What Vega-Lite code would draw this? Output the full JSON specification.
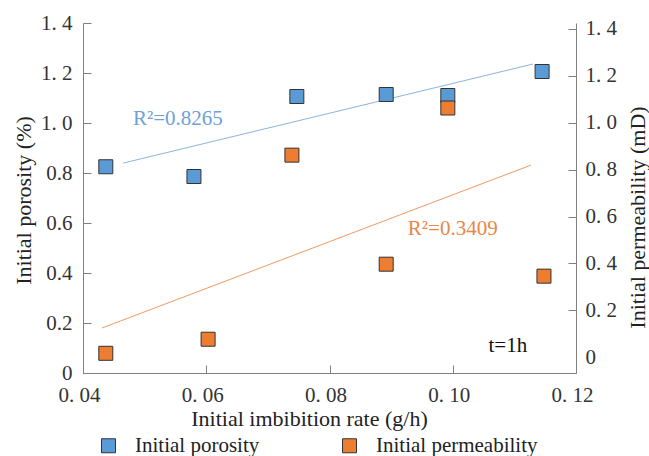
{
  "$schema": "https://vega.github.io/schema/vega-lite/v6.json",
  "width": 493,
  "height": 350,
  "autosize": "none",
  "padding": {"left": 83, "top": 23, "right": 73, "bottom": 83},
  "background": "white",
  "config": {
    "view": {"stroke": null},
    "font": "Liberation Serif",
    "axis": {
      "grid": false,
      "domainColor": "#808080",
      "domainWidth": 1,
      "tickColor": "#808080",
      "tickSize": -8,
      "labelFont": "Liberation Serif",
      "labelFontSize": 21,
      "labelColor": "#333333",
      "labelFlush": false,
      "titleFont": "Liberation Serif",
      "titleFontSize": 22,
      "titleFontWeight": "normal",
      "titleColor": "#222222"
    },
    "legend": {
      "orient": "none",
      "legendX": 15,
      "legendY": 412,
      "direction": "horizontal",
      "columns": 2,
      "padding": 0,
      "symbolType": "square",
      "symbolSize": 196,
      "symbolStrokeColor": "#333333",
      "symbolStrokeWidth": 1,
      "labelFont": "Liberation Serif",
      "labelFontSize": 21,
      "labelColor": "#222222",
      "labelOffset": 16,
      "labelLimit": 0,
      "columnPadding": 79
    }
  },
  "datasets": {
    "porosity": [
      {"rate": 0.0437, "value": 0.825},
      {"rate": 0.0580, "value": 0.786},
      {"rate": 0.0747, "value": 1.106},
      {"rate": 0.0892, "value": 1.114},
      {"rate": 0.0992, "value": 1.110},
      {"rate": 0.1145, "value": 1.206}
    ],
    "permeability": [
      {"rate": 0.0437, "value": 0.017},
      {"rate": 0.0603, "value": 0.077},
      {"rate": 0.0739, "value": 0.862},
      {"rate": 0.0892, "value": 0.397},
      {"rate": 0.0992, "value": 1.063},
      {"rate": 0.1148, "value": 0.346}
    ],
    "porosity_fit": [
      {"rate": 0.0465, "value": 0.8395},
      {"rate": 0.1130, "value": 1.2358}
    ],
    "permeability_fit": [
      {"rate": 0.0431, "value": 0.125},
      {"rate": 0.1127, "value": 0.8195}
    ],
    "notes": [
      {"series": "porosity", "rate": 0.0481, "value": 1.0148, "label": "R²=0.8265"},
      {"series": "time", "rate": 0.1058, "value": 0.1069, "label": "t=1h"},
      {"series": "permeability", "rate": 0.0927, "value": 0.546, "label": "R²=0.3409"}
    ]
  },
  "layer": [
    {
      "layer": [
        {
          "data": {"name": "porosity_fit"},
          "mark": {"type": "line", "color": "#8DB4DD", "strokeWidth": 1},
          "encoding": {
            "x": {"field": "rate", "type": "quantitative", "scale": {"domain": [0.04, 0.12], "nice": false, "zero": false}},
            "y": {"field": "value", "type": "quantitative", "scale": {"domain": [0, 1.4], "nice": false, "zero": false}}
          }
        },
        {
          "data": {"name": "porosity"},
          "mark": {"type": "point", "shape": "square", "filled": true, "size": 196, "stroke": "#333333", "strokeWidth": 1, "opacity": 1},
          "encoding": {
            "x": {
              "field": "rate",
              "type": "quantitative",
              "scale": {"domain": [0.04, 0.12], "nice": false, "zero": false},
              "axis": {
                "title": "Initial imbibition rate (g/h)",
                "values": [0.04, 0.06, 0.08, 0.1, 0.12],
                "labelExpr": "replace(format(datum.value, '.2f'), '.', '. ')",
                "labelOffset": -4,
                "labelPadding": 19,
                "titleX": 226,
                "titleY": 45,
                "titleAlign": "center",
                "titleBaseline": "middle"
              }
            },
            "y": {
              "field": "value",
              "type": "quantitative",
              "scale": {"domain": [0, 1.4], "nice": false, "zero": false},
              "axis": {
                "title": "Initial porosity (%)",
                "orient": "left",
                "values": [0, 0.2, 0.4, 0.6, 0.8, 1.0, 1.2, 1.4],
                "labelExpr": "datum.value == 0 ? '0' : datum.value >= 0.99 ? replace(format(datum.value, '.1f'), '.', '. ') : format(datum.value, '.1f')",
                "labelPadding": 19,
                "titleAngle": -90,
                "titleX": -60,
                "titleY": 177,
                "titleAlign": "center",
                "titleBaseline": "middle"
              }
            },
            "color": {
              "datum": "Initial porosity",
              "type": "nominal",
              "scale": {"domain": ["Initial porosity", "Initial permeability"], "range": ["#5B9BD5", "#ED7D31"]},
              "legend": {"title": null}
            }
          }
        },
        {
          "data": {"name": "notes"},
          "transform": [{"filter": "datum.series !== 'permeability'"}],
          "mark": {"type": "text", "align": "left", "baseline": "middle", "font": "Liberation Serif", "fontSize": 21},
          "encoding": {
            "x": {"field": "rate", "type": "quantitative", "scale": {"domain": [0.04, 0.12], "nice": false, "zero": false}},
            "y": {"field": "value", "type": "quantitative", "scale": {"domain": [0, 1.4], "nice": false, "zero": false}},
            "text": {"field": "label"},
            "color": {"condition": {"test": "datum.series === 'porosity'", "value": "#6FA1D8"}, "value": "#111111"}
          }
        }
      ]
    },
    {
      "layer": [
        {
          "data": {"name": "permeability_fit"},
          "mark": {"type": "line", "color": "#EE9A62", "strokeWidth": 1},
          "encoding": {
            "x": {"field": "rate", "type": "quantitative", "scale": {"domain": [0.04, 0.12], "nice": false, "zero": false}},
            "y": {"field": "value", "type": "quantitative", "scale": {"domain": [-0.067, 1.4255], "nice": false, "zero": false}}
          }
        },
        {
          "data": {"name": "permeability"},
          "mark": {"type": "point", "shape": "square", "filled": true, "size": 196, "stroke": "#333333", "strokeWidth": 1, "opacity": 1},
          "encoding": {
            "x": {"field": "rate", "type": "quantitative", "scale": {"domain": [0.04, 0.12], "nice": false, "zero": false}},
            "y": {
              "field": "value",
              "type": "quantitative",
              "scale": {"domain": [-0.067, 1.4255], "nice": false, "zero": false},
              "axis": {
                "title": "Initial permeability (mD)",
                "orient": "right",
                "values": [0, 0.2, 0.4, 0.6, 0.8, 1.0, 1.2, 1.4],
                "labelExpr": "datum.value == 0 ? '0' : replace(format(datum.value, '.1f'), '.', '. ')",
                "labelPadding": 17,
                "tickOpacity": {"condition": {"test": "datum.value == 0", "value": 0}, "value": 1},
                "titleAngle": -90,
                "titleX": 61,
                "titleY": 194,
                "titleAlign": "center",
                "titleBaseline": "middle"
              }
            },
            "color": {
              "datum": "Initial permeability",
              "type": "nominal",
              "scale": {"domain": ["Initial porosity", "Initial permeability"], "range": ["#5B9BD5", "#ED7D31"]},
              "legend": {"title": null}
            }
          }
        },
        {
          "data": {"name": "notes"},
          "transform": [{"filter": "datum.series === 'permeability'"}],
          "mark": {"type": "text", "align": "left", "baseline": "middle", "font": "Liberation Serif", "fontSize": 21, "color": "#E8874A"},
          "encoding": {
            "x": {"field": "rate", "type": "quantitative", "scale": {"domain": [0.04, 0.12], "nice": false, "zero": false}},
            "y": {"field": "value", "type": "quantitative", "scale": {"domain": [-0.067, 1.4255], "nice": false, "zero": false}},
            "text": {"field": "label"}
          }
        }
      ]
    }
  ],
  "resolve": {"scale": {"y": "independent"}}
}
